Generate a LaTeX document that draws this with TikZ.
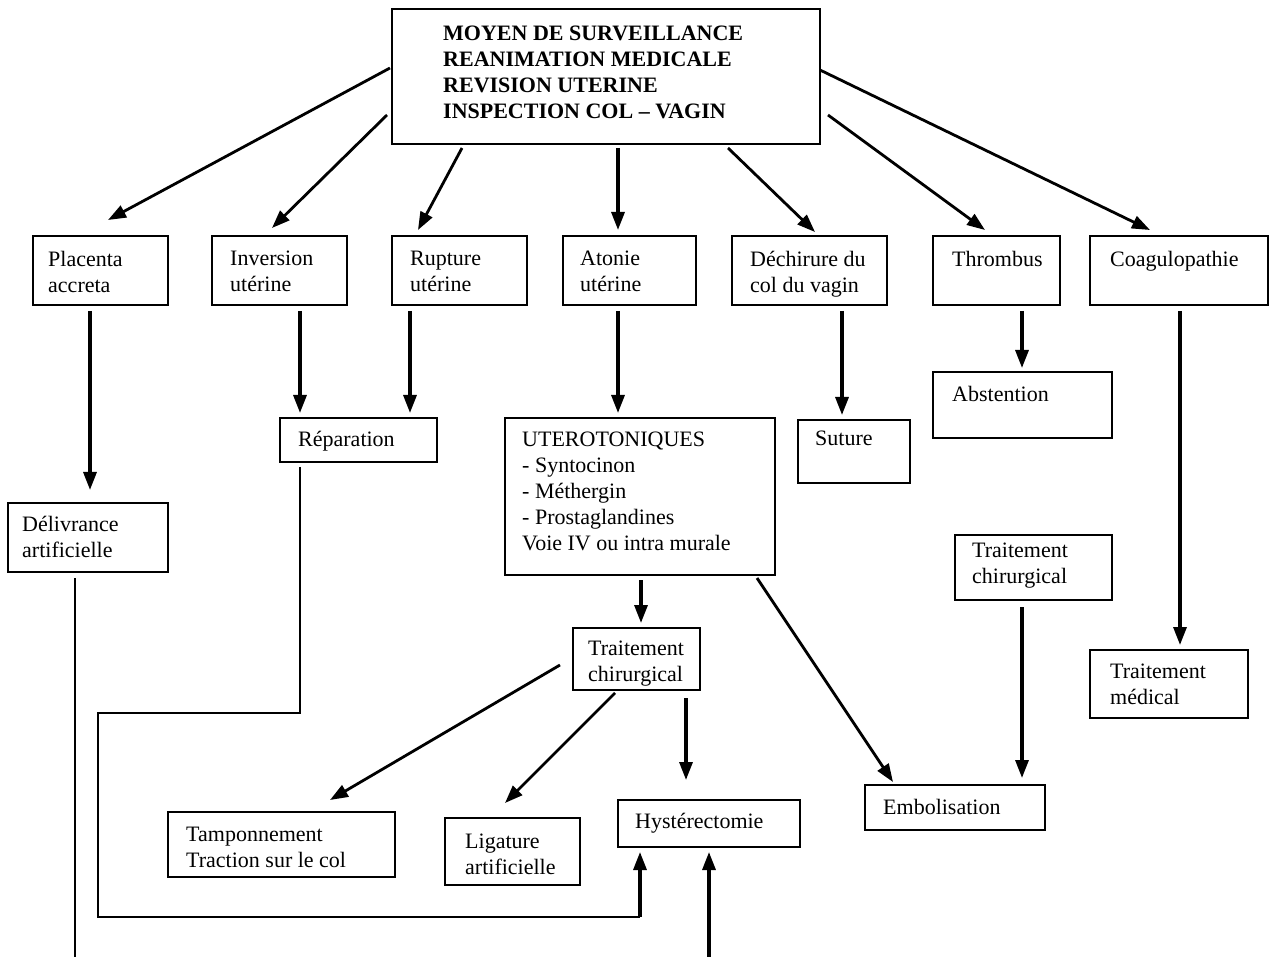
\documentclass[tikz,border=0pt]{standalone}
\usepackage{fontspec}
\setmainfont{Liberation Serif}
\usetikzlibrary{arrows.meta,calc}

% box: name, x1, y1, x2, y2, text dx, text dy, text
\newcommand\mkbox[8]{%
  \node[box, minimum width={#4-#2}, minimum height={#5-#3}] (#1) at (#2,#3) {};
  \node[txt] (#1-t) at ([shift={(#6,#7)}]#1.north west) {#8};}

\begin{document}
\begin{tikzpicture}[x=1pt,y=-1pt,
  box/.style={draw, line width=1.6pt, inner sep=0pt, outer sep=0pt, anchor=north west},
  txt/.style={anchor=north west, inner sep=0pt, align=left, font=\fontsize{22}{26}\selectfont},
  head/.style={txt, font=\bfseries\fontsize{22}{26}\selectfont},
  arr/.style={line width=3.2pt, -{Triangle[length=18pt,width=13pt]}},
  darr/.style={line width=2.8pt, -{Triangle[length=18pt,width=13pt]}},
  thin/.style={line width=2pt},
]
\useasboundingbox (0,0) rectangle (1270,957);

% top box
\node[box, minimum width=428, minimum height=135] (T) at (392,9) {};
\node[head] (T-t) at ([shift={(51,17)}]T.north west)
  {MOYEN DE SURVEILLANCE\\REANIMATION MEDICALE\\REVISION UTERINE\\INSPECTION COL -- VAGIN};

% first row
\mkbox{P}{33}{236}{168}{305}{15}{15}{Placenta\\accreta}
\mkbox{I}{212}{236}{347}{305}{18}{15}{Inversion\\utérine}
\mkbox{R}{392}{236}{527}{305}{18}{15}{Rupture\\utérine}
\mkbox{A}{563}{236}{696}{305}{17}{15}{Atonie\\utérine}
\mkbox{D}{732}{236}{887}{305}{18}{15}{Déchirure du\\col du vagin}
\mkbox{Th}{933}{236}{1060}{305}{19}{15}{Thrombus}
\mkbox{C}{1090}{236}{1268}{305}{20}{15}{Coagulopathie}

% treatments
\mkbox{Del}{8}{503}{168}{572}{14}{13}{Délivrance\\artificielle}
\mkbox{Rep}{280}{418}{437}{462}{18}{13}{Réparation}
\mkbox{Ut}{505}{418}{775}{575}{17}{14}{UTEROTONIQUES\\- Syntocinon\\- Méthergin\\- Prostaglandines\\Voie IV ou intra murale}
\mkbox{Sut}{798}{420}{910}{483}{17}{11}{Suture}
\mkbox{Abs}{933}{372}{1112}{438}{19}{14}{Abstention}
\mkbox{TCr}{955}{535}{1112}{600}{17}{8}{Traitement\\chirurgical}
\mkbox{TM}{1090}{650}{1248}{718}{20}{14}{Traitement\\médical}
\mkbox{TC}{573}{628}{700}{690}{15}{13}{Traitement\\chirurgical}
\mkbox{Emb}{865}{785}{1045}{830}{18}{14}{Embolisation}
\mkbox{Tamp}{168}{812}{395}{877}{18}{15}{Tamponnement\\Traction sur le col}
\mkbox{Lig}{445}{818}{580}{885}{20}{16}{Ligature\\artificielle}
\mkbox{Hyst}{618}{800}{800}{847}{17}{13}{Hystérectomie}

% from the top box
\draw[darr] ($(T.north west)+(-2,59)$) -- ($(P.north west)+(75,-16)$);
\draw[darr] ($(T.north west)+(-5,106)$) -- ($(I.north west)+(60,-8)$);
\draw[darr] ($(T.north west)+(70,139)$) -- ($(R.north west)+(26,-6)$);
\draw[arr]  ($(T.north west)+(226,139)$) -- ($(A.north west)+(55,-6)$);
\draw[darr] ($(T.north west)+(336,139)$) -- ($(D.north west)+(83,-4)$);
\draw[darr] ($(T.north west)+(436,106)$) -- ($(Th.north west)+(52,-6)$);
\draw[darr] ($(T.north west)+(428,61)$) -- ($(C.north west)+(60,-6)$);

% second level
\draw[arr] ($(P.south west)+(57,6)$) -- ($(Del.north west)+(82,-13)$);
\draw[arr] ($(I.south west)+(88,6)$) -- ($(Rep.north west)+(20,-5)$);
\draw[arr] ($(R.south west)+(18,6)$) -- ($(Rep.north west)+(130,-5)$);
\draw[arr] ($(A.south west)+(55,6)$) -- ($(Ut.north west)+(113,-5)$);
\draw[arr] ($(D.south west)+(110,6)$) -- ($(Sut.north west)+(44,-5)$);
\draw[arr] ($(Th.south west)+(89,6)$) -- ($(Abs.north west)+(89,-4)$);
\draw[arr] ($(C.south west)+(90,6)$) -- ($(TM.north west)+(90,-5)$);
\draw[arr] ($(TCr.south west)+(67,7)$) -- ($(Emb.north west)+(157,-7)$);

% uterotonics and surgery
\draw[arr] ($(Ut.south west)+(136,5)$) -- ($(TC.north west)+(68,-5)$);
\draw[darr] ($(Ut.south west)+(252,3)$) -- ($(Emb.north west)+(28,-3)$);
\draw[darr] ($(TC.north west)+(-13,37)$) -- ($(Tamp.north west)+(162,-12)$);
\draw[darr] ($(TC.south west)+(42,3)$) -- ($(Lig.north west)+(60,-15)$);
\draw[arr] ($(TC.south west)+(113,8)$) -- ($(Hyst.north west)+(68,-20)$);

% routed line from repair to hysterectomy
\coordinate (r1) at ($(Rep.south west)+(20,5)$);
\coordinate (r2) at ($(Hyst.south west)+(22,70)$);
\draw[thin] (r1) -- ++(0,246) -- ++(-202,0) |- (r2);
\draw[arr] (r2) -- ($(Hyst.south west)+(22,5)$);

% lines running off the bottom edge
\draw[thin] ($(Del.south west)+(67,6)$) -- ($(Del.south west)+(67,385)$);
\draw[arr] ($(Hyst.south west)+(91,110)$) -- ($(Hyst.south west)+(91,5)$);
\end{tikzpicture}
\end{document}
